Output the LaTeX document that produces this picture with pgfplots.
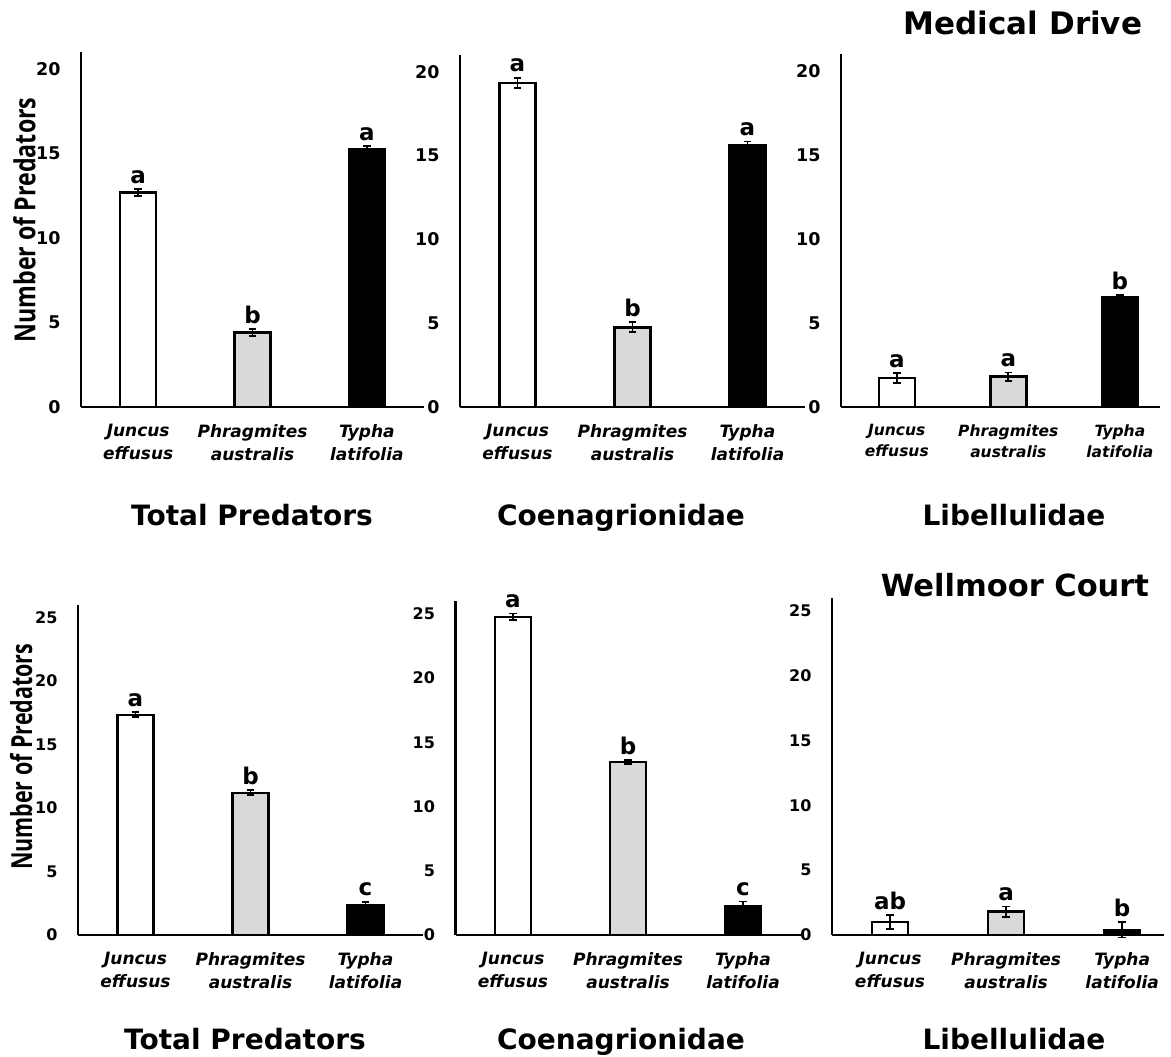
\documentclass[border=0pt]{standalone}
\usepackage{pgfplots}
\pgfplotsset{compat=1.18}
\usepackage{fontspec}
\setmainfont{DejaVu Sans}
\newfontfamily\osans{Open Sans}
\definecolor{barGray}{RGB}{217,217,217}
\pgfplotsset{
  panel/.style={
    scale only axis, anchor=south west,
    axis x line=bottom, axis y line=left,
    axis line style={line width=2.6pt,-},
    xmin=-0.5, ymin=0,
    xtick={0,1,2},
    xticklabels={{Juncus\\effusus},{Phragmites\\australis},{Typha\\latifolia}},
    xticklabel style={font=\fontsize{17}{23}\selectfont\bfseries\itshape, align=center, yshift=-14pt},
    major tick length=0pt,
    yticklabel style={font=\fontsize{17.5}{18}\selectfont\bfseries, xshift=-17pt},
    /pgf/number format/assume math mode=true,
    clip=false,
  },
  bars/.style={ybar, bar width=36pt, bar shift=0pt, draw=black, line width=2.5pt,
    error bars/y dir=both, error bars/y explicit,
    error bars/error bar style={line width=1.8pt,black,solid},
    error bars/error mark options={rotate=90, mark size=3.8pt, line width=1.8pt, black}},
  letters/.style={draw=none, mark=none, nodes near coords, point meta=explicit symbolic,
    nodes near coords style={font=\fontsize{23}{23}\selectfont\bfseries, anchor=south, text=black, yshift=2pt}},
  toplab/.style={ylabel={\scalebox{0.8}[1]{Number of Predators}},
    ylabel style={font=\osans\bfseries\fontsize{29}{29}\selectfont, at={(axis description cs:-0.165,0.527)}, anchor=center}},
  botlab/.style={ylabel={\scalebox{0.74}[1]{Number of Predators}},
    ylabel style={font=\osans\bfseries\fontsize{29}{29}\selectfont, at={(axis description cs:-0.165,0.54)}, anchor=center}},
}
\begin{document}
\begin{tikzpicture}
\useasboundingbox (0,0) rectangle (1171pt,1057pt);
% ---------- Medical Drive: Total Predators
\begin{axis}[panel, toplab, at={(81pt,650pt)}, width=343pt, height=355pt, xmax=2.5, ymax=21, ytick={0,5,10,15,20}]
\addplot[bars, fill=white] coordinates {(0,12.7) +- (0,0.2)};
\addplot[bars, fill=barGray] coordinates {(1,4.42) +- (0,0.2)};
\addplot[bars, fill=black] coordinates {(2,15.27) +- (0,0.15)};
\addplot[letters] coordinates {(0,12.9)[a] (1,4.62)[b] (2,15.42)[a]};
\end{axis}
% ---------- Medical Drive: Coenagrionidae
\begin{axis}[panel, at={(460pt,650pt)}, width=345pt, height=352pt, xmax=2.5, ymax=21, ytick={0,5,10,15,20}]
\addplot[bars, fill=white] coordinates {(0,19.34) +- (0,0.3)};
\addplot[bars, fill=barGray] coordinates {(1,4.75) +- (0,0.3)};
\addplot[bars, fill=black] coordinates {(2,15.64) +- (0,0.2)};
\addplot[letters] coordinates {(0,19.64)[a] (1,5.05)[b] (2,15.84)[a]};
\end{axis}
% ---------- Medical Drive: Libellulidae
\begin{axis}[panel, at={(841pt,650pt)}, width=319pt, height=353pt, xmax=2.36, ymax=21, ytick={0,5,10,15,20},
  xticklabel style={font=\fontsize{15.5}{21}\selectfont\bfseries\itshape}]
\addplot[bars, fill=white] coordinates {(0,1.73) +- (0,0.3)};
\addplot[bars, fill=barGray] coordinates {(1,1.8) +- (0,0.25)};
\addplot[bars, fill=black] coordinates {(2,6.55) +- (0,0.1)};
\addplot[letters] coordinates {(0,2.03)[a] (1,2.05)[a] (2,6.65)[b]};
\end{axis}
% ---------- Wellmoor Court: Total Predators
\begin{axis}[panel, botlab, at={(78pt,122pt)}, width=345pt, height=330pt, xmax=2.5, ymax=26, ytick={0,5,10,15,20,25},
  yticklabel style={font=\fontsize{16}{17}\selectfont\bfseries}]
\addplot[bars, fill=white] coordinates {(0,17.35) +- (0,0.2)};
\addplot[bars, fill=barGray] coordinates {(1,11.2) +- (0,0.2)};
\addplot[bars, fill=black] coordinates {(2,2.37) +- (0,0.25)};
\addplot[letters] coordinates {(0,17.55)[a] (1,11.4)[b] (2,2.62)[c]};
\end{axis}
% ---------- Wellmoor Court: Coenagrionidae
\begin{axis}[panel, at={(455.5pt,122pt)}, width=345pt, height=334pt, xmax=2.5, ymax=26, ytick={0,5,10,15,20,25},
  yticklabel style={font=\fontsize{16}{17}\selectfont\bfseries}]
\addplot[bars, fill=white] coordinates {(0,24.77) +- (0,0.25)};
\addplot[bars, fill=barGray] coordinates {(1,13.47) +- (0,0.15)};
\addplot[bars, fill=black] coordinates {(2,2.26) +- (0,0.35)};
\addplot[letters] coordinates {(0,25.02)[a] (1,13.62)[b] (2,2.61)[c]};
\end{axis}
% ---------- Wellmoor Court: Libellulidae
\begin{axis}[panel, at={(832pt,122pt)}, width=332pt, height=337pt, xmax=2.36, ymax=26, ytick={0,5,10,15,20,25},
  yticklabel style={font=\fontsize{16}{17}\selectfont\bfseries}]
\addplot[bars, fill=white] coordinates {(0,1.0) +- (0,0.55)};
\addplot[bars, fill=barGray] coordinates {(1,1.8) +- (0,0.4)};
\addplot[bars, fill=black] coordinates {(2,0.4) +- (0,0.6)};
\addplot[letters] coordinates {(0,1.55)[ab] (1,2.2)[a] (2,1.0)[b]};
\end{axis}
% ---------- titles
\node[font=\fontsize{31}{31}\selectfont\bfseries] at (1023pt,1034pt) {Medical Drive};
\node[font=\fontsize{30.5}{31}\selectfont\bfseries] at (1015pt,472pt) {Wellmoor Court};
\node[font=\fontsize{28}{28}\selectfont\bfseries, anchor=base] at (252pt,531pt) {Total Predators};
\node[font=\fontsize{28}{28}\selectfont\bfseries, anchor=base] at (621pt,531pt) {Coenagrionidae};
\node[font=\fontsize{28}{28}\selectfont\bfseries, anchor=base] at (1014pt,531pt) {Libellulidae};
\node[font=\fontsize{28}{28}\selectfont\bfseries, anchor=base] at (245pt,7pt) {Total Predators};
\node[font=\fontsize{28}{28}\selectfont\bfseries, anchor=base] at (621pt,7pt) {Coenagrionidae};
\node[font=\fontsize{28}{28}\selectfont\bfseries, anchor=base] at (1014pt,7pt) {Libellulidae};
\end{tikzpicture}
\end{document}
